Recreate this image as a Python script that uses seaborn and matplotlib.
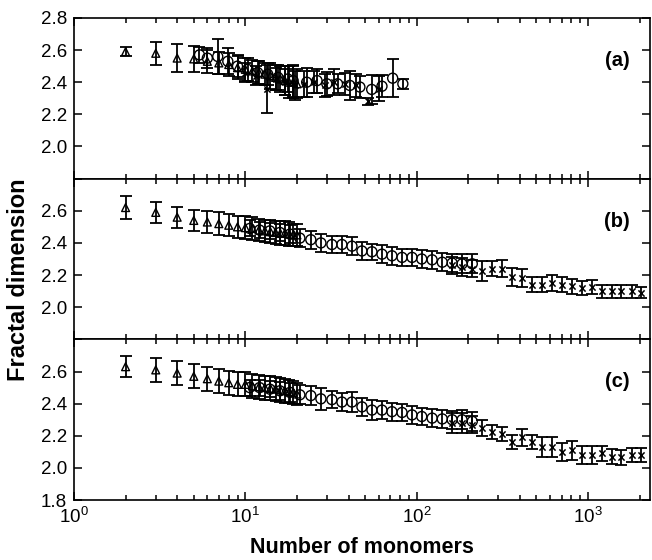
import numpy as np
import pandas as pd
import seaborn as sns
import matplotlib.pyplot as plt
from matplotlib.ticker import LogLocator, FixedLocator, NullFormatter

# ---- data ----
# triangles (small clusters), same N for all three panels
tri_n = [2, 3, 4, 5, 6, 7, 8, 9, 10, 11, 12, 13, 14, 15, 16, 17, 18, 19, 20]
tri_a = [2.59, 2.58, 2.55, 2.545, 2.53, 2.52, 2.51, 2.49, 2.48, 2.47, 2.46, 2.45, 2.44, 2.43, 2.42, 2.41, 2.40, 2.40, 2.39]
tri_a_err = [0.03, 0.07, 0.085, 0.08, 0.07, 0.07, 0.07, 0.07, 0.07, 0.07, 0.07, 0.07, 0.08, 0.08, 0.08, 0.09, 0.10, 0.10, 0.09]
tri_b = [2.62, 2.59, 2.56, 2.54, 2.53, 2.52, 2.51, 2.50, 2.495, 2.49, 2.48, 2.475, 2.47, 2.465, 2.46, 2.46, 2.455, 2.45, 2.45]
tri_b_err = [0.07, 0.065, 0.065, 0.065, 0.07, 0.07, 0.07, 0.07, 0.07, 0.07, 0.07, 0.07, 0.07, 0.07, 0.075, 0.075, 0.075, 0.07, 0.07]
tri_c = [2.63, 2.61, 2.59, 2.57, 2.555, 2.54, 2.53, 2.52, 2.52, 2.51, 2.505, 2.50, 2.495, 2.49, 2.485, 2.48, 2.475, 2.47, 2.46]
tri_c_err = [0.065, 0.075, 0.075, 0.075, 0.075, 0.075, 0.075, 0.075, 0.075, 0.075, 0.075, 0.075, 0.075, 0.075, 0.075, 0.075, 0.07, 0.07, 0.07]

# circles
circ_a_n = [5.4, 6.0, 6.9, 7.9, 9.0, 10.3, 11.8, 13.5, 15.5, 17.7, 19, 22.8, 26.2, 29.9, 34.5, 40.7, 46.6, 54.6, 62.7, 72.4, 83]
circ_a = [2.57, 2.55, 2.56, 2.53, 2.50, 2.48, 2.46, 2.45, 2.43, 2.42, 2.41, 2.40, 2.41, 2.39, 2.39, 2.38, 2.37, 2.355, 2.375, 2.425, 2.39]
circ_a_err = [0.05, 0.06, 0.11, 0.08, 0.07, 0.07, 0.07, 0.07, 0.08, 0.08, 0.10, 0.09, 0.075, 0.075, 0.06, 0.09, 0.07, 0.09, 0.07, 0.12, 0.03]
circ_n = [10.6, 12.1, 13.9, 15.9, 18.2, 20.8, 24.1, 27.6, 32.0, 36.6, 41.9, 47.9, 54.8, 62.7, 71.7, 82.1, 93.9, 107, 123, 141, 161, 184, 211]
circ_b = [2.49, 2.48, 2.475, 2.465, 2.455, 2.43, 2.42, 2.40, 2.39, 2.39, 2.38, 2.35, 2.345, 2.33, 2.32, 2.31, 2.31, 2.30, 2.295, 2.28, 2.275, 2.27, 2.27]
circ_b_err = [0.05, 0.05, 0.05, 0.055, 0.055, 0.055, 0.055, 0.055, 0.055, 0.055, 0.055, 0.055, 0.05, 0.055, 0.055, 0.055, 0.055, 0.055, 0.055, 0.055, 0.055, 0.06, 0.06]
circ_c = [2.50, 2.50, 2.49, 2.48, 2.47, 2.455, 2.45, 2.43, 2.425, 2.41, 2.41, 2.38, 2.36, 2.36, 2.35, 2.345, 2.33, 2.32, 2.31, 2.305, 2.30, 2.30, 2.29]
circ_c_err = [0.05, 0.05, 0.05, 0.055, 0.06, 0.06, 0.06, 0.07, 0.055, 0.055, 0.06, 0.055, 0.06, 0.055, 0.055, 0.055, 0.055, 0.055, 0.055, 0.055, 0.055, 0.06, 0.06]

# crosses
x_a_n = [10, 11.5, 13.3, 15, 17, 19.5, 22, 25, 29, 33, 38, 44, 52, 60]
x_a = [2.46, 2.44, 2.36, 2.42, 2.40, 2.38, 2.39, 2.40, 2.38, 2.40, 2.39, 2.38, 2.28, 2.36]
x_a_err = [0.06, 0.06, 0.15, 0.07, 0.08, 0.09, 0.08, 0.07, 0.07, 0.08, 0.07, 0.07, 0.02, 0.08]
x_n = [160, 183, 209, 239, 274, 313, 358, 410, 469, 535, 613, 700, 801, 916, 1048, 1199, 1371, 1567, 1793, 2050]
x_b = [2.26, 2.25, 2.24, 2.225, 2.24, 2.24, 2.19, 2.18, 2.14, 2.14, 2.15, 2.14, 2.13, 2.12, 2.125, 2.10, 2.10, 2.10, 2.10, 2.09]
x_b_err = [0.055, 0.055, 0.055, 0.06, 0.045, 0.055, 0.055, 0.055, 0.045, 0.045, 0.05, 0.045, 0.045, 0.045, 0.045, 0.04, 0.04, 0.04, 0.04, 0.035]
x_c = [2.28, 2.28, 2.27, 2.25, 2.225, 2.21, 2.16, 2.19, 2.16, 2.13, 2.13, 2.10, 2.11, 2.08, 2.08, 2.09, 2.07, 2.065, 2.08, 2.08]
x_c_err = [0.06, 0.06, 0.055, 0.05, 0.045, 0.045, 0.045, 0.055, 0.045, 0.06, 0.06, 0.055, 0.06, 0.055, 0.055, 0.045, 0.045, 0.045, 0.045, 0.045]

panel_labels = ['(a)', '(b)', '(c)']
ytick_vals = [1.8, 2.0, 2.2, 2.4, 2.6, 2.8]
ytick_shown = [[2.0, 2.2, 2.4, 2.6, 2.8], [2.0, 2.2, 2.4, 2.6], [1.8, 2.0, 2.2, 2.4, 2.6]]

panels = [
    [(tri_n, tri_a, tri_a_err, 'tri'), (circ_a_n, circ_a, circ_a_err, 'circ'), (x_a_n, x_a, x_a_err, 'x')],
    [(tri_n, tri_b, tri_b_err, 'tri'), (circ_n, circ_b, circ_b_err, 'circ'), (x_n, x_b, x_b_err, 'x')],
    [(tri_n, tri_c, tri_c_err, 'tri'), (circ_n, circ_c, circ_c_err, 'circ'), (x_n, x_c, x_c_err, 'x')],
]

sns.set_style('ticks')
plt.rcParams['font.family'] = ['Liberation Sans', 'DejaVu Sans']
plt.rcParams['mathtext.fontset'] = 'custom'
plt.rcParams['mathtext.rm'] = 'Liberation Sans'
plt.rcParams['text.color'] = 'black'

fig, axes = plt.subplots(3, 1, sharex=True, figsize=(6.52, 5.6), dpi=100)
fig.subplots_adjust(left=0.1135, right=0.997, top=0.968, bottom=0.107, hspace=0)

for ax, series, lab, shown in zip(axes, panels, panel_labels, ytick_shown):
    for n, y, e, kind in series:
        df = pd.DataFrame({'N': n, 'D': y})
        ax.errorbar(n, y, yerr=e, fmt='none', ecolor='black', elinewidth=1.3,
                    capsize=4.5, capthick=1.3, zorder=2)
        if kind == 'tri':
            sns.scatterplot(data=df, x='N', y='D', ax=ax, marker='^', s=32,
                            facecolor='none', edgecolor='black', linewidth=1.0, zorder=3)
        elif kind == 'circ':
            sns.scatterplot(data=df, x='N', y='D', ax=ax, marker='o', s=52,
                            facecolor='none', edgecolor='black', linewidth=1.0, zorder=3)
        else:
            sns.scatterplot(data=df, x='N', y='D', ax=ax, marker='x', s=20,
                            color='black', linewidth=1.1, zorder=3)
    ax.set_xscale('log')
    ax.set_xlim(1, 2300)
    ax.set_ylim(1.8, 2.8)
    ax.yaxis.set_major_locator(FixedLocator(ytick_vals))
    ax.set_yticklabels(['%.1f' % v if v in shown else '' for v in ytick_vals])
    ax.xaxis.set_major_locator(LogLocator(base=10, numticks=10))
    ax.xaxis.set_minor_locator(LogLocator(base=10, subs=np.arange(2, 10), numticks=20))
    ax.xaxis.set_minor_formatter(NullFormatter())
    ax.tick_params(which='both', direction='in', top=True, right=True,
                   labelsize=13.5, colors='black', width=1.1, pad=5)
    ax.tick_params(which='major', length=6)
    ax.tick_params(which='minor', length=3.5)
    for sp in ax.spines.values():
        sp.set_visible(True)
        sp.set_linewidth(1.2)
        sp.set_color('black')
    ax.set_xlabel('')
    ax.set_ylabel('')
    ax.text(0.943, 0.735, lab, transform=ax.transAxes, ha='center', va='center',
            fontsize=14.5, fontweight='bold', color='black')

fig.text(0.555, 0.022, 'Number of monomers', ha='center', va='center',
         fontsize=15.5, fontweight='bold', color='black')
fig.text(0.028, 0.5, 'Fractal dimension', ha='center', va='center', rotation=90,
         fontsize=17, fontweight='bold', color='black')

fig.savefig('out.png', dpi=100)
